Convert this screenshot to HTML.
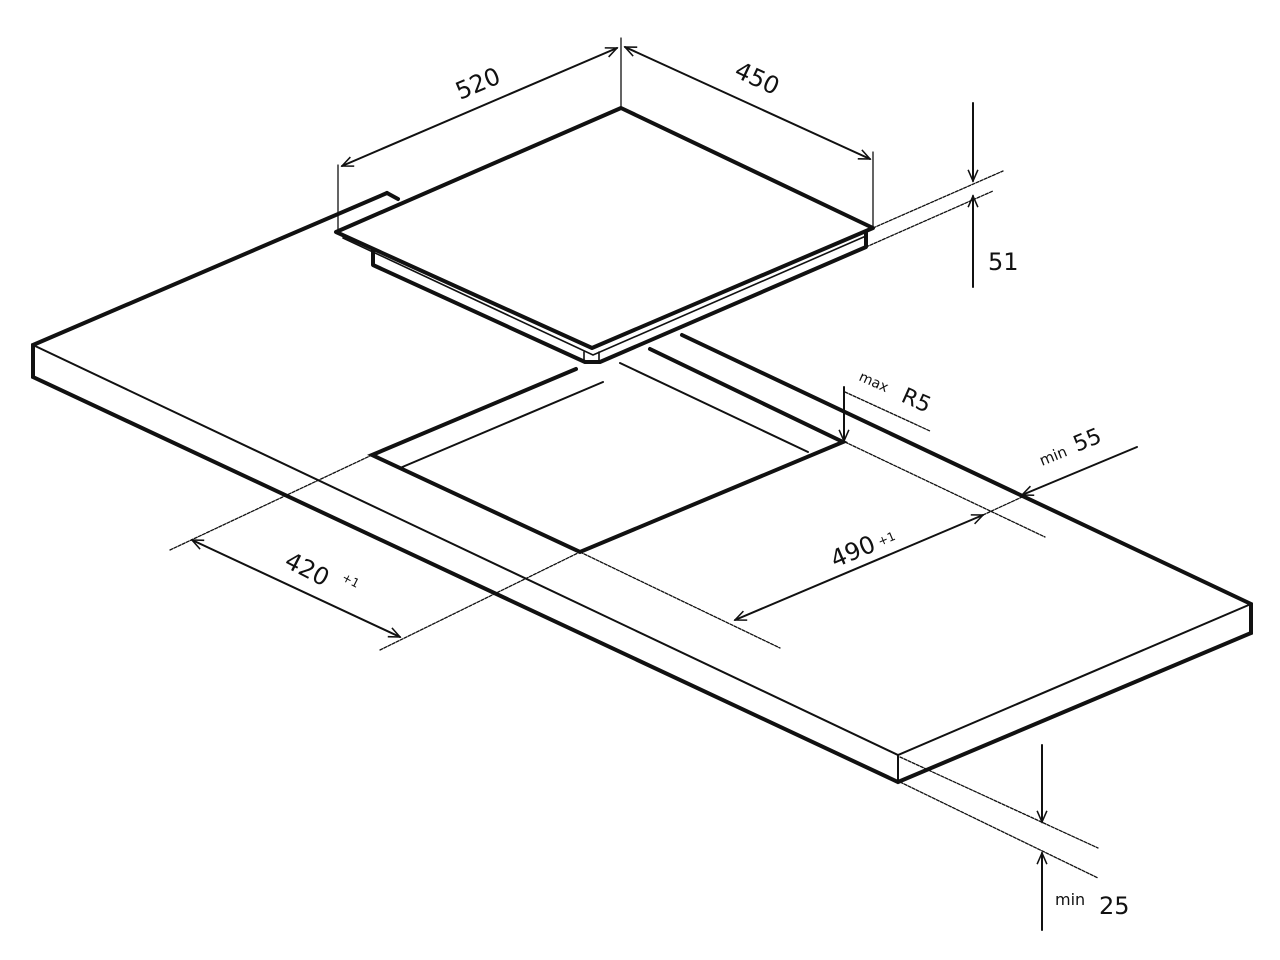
<!DOCTYPE html>
<html><head><meta charset="utf-8"><style>
html,body{margin:0;padding:0;background:#fff;}
svg{display:block;}
text{font-family:"DejaVu Sans","Liberation Sans",sans-serif;fill:#111;}
</style></head><body>
<svg width="1280" height="960" viewBox="0 0 1280 960" xmlns="http://www.w3.org/2000/svg">
<defs>
<marker id="a" viewBox="0 0 20 20" refX="18" refY="10" markerWidth="14" markerHeight="14" markerUnits="userSpaceOnUse" orient="auto-start-reverse">
<path d="M2,3 L18,10 L2,17" fill="none" stroke="#111" stroke-width="2.2"/>
</marker>
</defs>
<g stroke="#111" fill="none" stroke-linecap="round" stroke-linejoin="miter">
<!-- countertop -->
<g stroke-width="4">
<path d="M387,193 L33,345 L33,377 L898,782 L1251,633 L1251,604 L682,335"/>
<path d="M387,193 L398,199"/>
</g>
<g stroke-width="2">
<path d="M33,345 L898,755 L1251,604"/>
<path d="M898,755 L898,782"/>
</g>
<!-- cutout -->
<g stroke-width="4">
<path d="M576,369 L372,455 L580,552 L843,442 L650,349"/>
</g>
<g stroke-width="2">
<path d="M603,382 L400,468"/>
<path d="M620,363 L808,452"/>
</g>
<!-- hob -->
<g stroke-width="4" stroke-linejoin="round">
<path d="M336,232 L621,108 L873,228 L592,348 Z" fill="#fff"/>
<path d="M373,250 L373,265 L585,362 L600,362 L866,247 L866,232"/>
</g>
<g stroke-width="1.6">
<path d="M343,238 L593,355 L866,236"/>
<path d="M584,352 L584,362 M599,352 L599,362"/>
</g>
<!-- dimensions thin -->
<g stroke-width="1.3">
<path d="M338,232 L338,165 M621,108 L621,38 M873,228 L873,152"/>
<path d="M873,228 L1003,171 M866,247 L993,191" stroke-dasharray="3,1.5"/>
<path d="M845,392 L930,431" stroke-dasharray="3,1.5"/>
<path d="M845,442 L1045,537" stroke-dasharray="3,1.5"/>
<path d="M983,515 L1022,497" stroke-dasharray="3,1.5"/>
<path d="M580,552 L780,648" stroke-dasharray="3,1.5"/>
<path d="M170,550 L372,455" stroke-dasharray="3,1.5"/>
<path d="M380,650 L580,552" stroke-dasharray="3,1.5"/>
<path d="M900,757 L1098,848 M900,782 L1098,878" stroke-dasharray="3,1.5"/>
</g>
<g stroke-width="2">
<path d="M342,166 L617,48" marker-start="url(#a)" marker-end="url(#a)"/>
<path d="M625,47 L870,159" marker-start="url(#a)" marker-end="url(#a)"/>
<path d="M973,103 L973,181" marker-end="url(#a)"/>
<path d="M973,287 L973,196" marker-end="url(#a)"/>
<path d="M844,387 L844,441" marker-end="url(#a)"/>
<path d="M1137,447 L1022,495" marker-end="url(#a)"/>
<path d="M735,620 L983,515" marker-start="url(#a)" marker-end="url(#a)"/>
<path d="M192,540 L400,637" marker-start="url(#a)" marker-end="url(#a)"/>
<path d="M1042,745 L1042,822" marker-end="url(#a)"/>
<path d="M1042,930 L1042,853" marker-end="url(#a)"/>
</g>
</g>
<text x="0" y="0" font-size="24" transform="translate(460,100) rotate(-23)">520</text>
<text x="0" y="0" font-size="24" transform="translate(733,76) rotate(25)">450</text>
<text x="988" y="270" font-size="24">51</text>
<text font-size="14" transform="translate(858,380) rotate(24)">max</text>
<text font-size="22" transform="translate(900,401) rotate(24)">R5</text>
<text font-size="15" transform="translate(1042,466) rotate(-22)">min</text>
<text font-size="22" transform="translate(1077,452) rotate(-22)">55</text>
<text font-size="24" transform="translate(835,568) rotate(-23)">490</text>
<text font-size="12" transform="translate(880,546) rotate(-23)">+1</text>
<text font-size="24" transform="translate(283,566) rotate(27)">420</text>
<text font-size="12" transform="translate(341,580) rotate(27)">+1</text>
<text x="1055" y="905" font-size="16">min</text>
<text x="1099" y="914" font-size="24">25</text>
</svg>
</body></html>
